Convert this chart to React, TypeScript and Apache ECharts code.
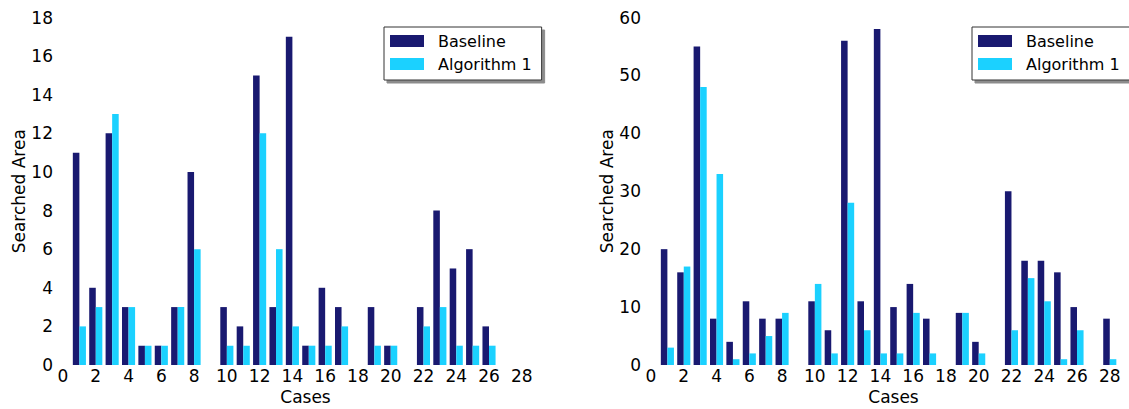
import React, { useEffect, useRef } from "react";
import * as echarts from "echarts";

const cases = [1, 2, 3, 4, 5, 6, 7, 8, 9, 10, 11, 12, 13, 14, 15, 16, 17, 18, 19, 20, 21, 22, 23, 24, 25, 26, 27, 28];
const leftBaseline = [11, 4, 12, 3, 1, 1, 3, 10, 0, 3, 2, 15, 3, 17, 1, 4, 3, 0, 3, 1, 0, 3, 8, 5, 6, 2, 0, 0];
const leftAlgorithm = [2, 3, 13, 3, 1, 1, 3, 6, 0, 1, 1, 12, 6, 2, 1, 1, 2, 0, 1, 1, 0, 2, 3, 1, 1, 1, 0, 0];
const rightBaseline = [20, 16, 55, 8, 4, 11, 8, 8, 0, 11, 6, 56, 11, 58, 10, 14, 8, 0, 9, 4, 0, 30, 18, 18, 16, 10, 0, 8];
const rightAlgorithm = [3, 17, 48, 33, 1, 2, 5, 9, 0, 14, 2, 28, 6, 2, 2, 9, 2, 0, 9, 2, 0, 6, 15, 11, 1, 6, 0, 1];

const seriesNames = ["Baseline", "Algorithm 1"];
const colors = ["#191970", "#1bd1ff"];
const FONT = "DejaVu Sans";

export default function App() {
  const ref = useRef<HTMLDivElement>(null);
  useEffect(() => {
    if (!ref.current) return;
    const chart = echarts.init(ref.current, undefined, { renderer: "svg" });
    const pair = (vals: number[]) => cases.map((c, i) => [c, vals[i]]);
    const xAxisBase = (gridIndex: number) => ({
      type: "value" as const,
      gridIndex,
      min: 0,
      max: 29.6,
      interval: 2,
      name: "Cases",
      nameLocation: "middle" as const,
      nameGap: 20,
      nameTextStyle: { fontFamily: FONT, fontSize: 17, color: "#000" },
      axisLine: { show: false },
      axisTick: { show: false },
      splitLine: { show: false },
      axisLabel: { fontFamily: FONT, fontSize: 17, color: "#000", margin: 2, showMaxLabel: false },
    });
    const yAxisBase = (gridIndex: number, max: number, interval: number) => ({
      type: "value" as const,
      gridIndex,
      min: 0,
      max,
      interval,
      name: "Searched Area",
      nameLocation: "middle" as const,
      nameGap: 36,
      nameTextStyle: { fontFamily: FONT, fontSize: 17, color: "#000" },
      axisLine: { show: false },
      axisTick: { show: false },
      splitLine: { show: false },
      axisLabel: { fontFamily: FONT, fontSize: 17, color: "#000", margin: 10, padding: [4, 0, 0, 0] },
    });
    const legendBase = (left: number) => ({
      orient: "vertical" as const,
      left,
      top: 27,
      data: seriesNames,
      icon: "rect",
      itemWidth: 34,
      itemHeight: 12,
      itemGap: 7,
      padding: [6, 10, 8, 6],
      backgroundColor: "#fff",
      borderColor: "#333",
      borderWidth: 1,
      borderRadius: 0,
      shadowColor: "rgba(0,0,0,0.45)",
      shadowBlur: 0,
      shadowOffsetX: 3,
      shadowOffsetY: 3,
      selectedMode: false,
      textStyle: { fontFamily: FONT, fontSize: 16, color: "#000", padding: [0, 0, 0, 9] },
    });
    const bar = (name: string, idx: number, vals: number[], color: string) => ({
      type: "bar" as const,
      name,
      xAxisIndex: idx,
      yAxisIndex: idx,
      data: pair(vals),
      barWidth: "40%",
      barGap: "0%",
      itemStyle: { color },
    });
    chart.setOption({
      animation: false,
      backgroundColor: "#fff",
      textStyle: { fontFamily: FONT },
      grid: [
        { left: 63, top: 17.5, width: 485, height: 347.5, outerBoundsMode: "none", containLabel: false },
        { left: 651, top: 17.5, width: 485, height: 347.5, outerBoundsMode: "none", containLabel: false },
      ],
      xAxis: [xAxisBase(0), xAxisBase(1)],
      yAxis: [yAxisBase(0, 18, 2), yAxisBase(1, 60, 10)],
      legend: [legendBase(384), legendBase(972)],
      series: [
        bar(seriesNames[0], 0, leftBaseline, colors[0]),
        bar(seriesNames[1], 0, leftAlgorithm, colors[1]),
        bar(seriesNames[0], 1, rightBaseline, colors[0]),
        bar(seriesNames[1], 1, rightAlgorithm, colors[1]),
      ],
    });
    return () => chart.dispose();
  }, []);
  return (
    <div
      ref={ref}
      style={{ position: "fixed", left: 0, top: 0, width: 1129, height: 409, background: "#fff" }}
    />
  );
}
